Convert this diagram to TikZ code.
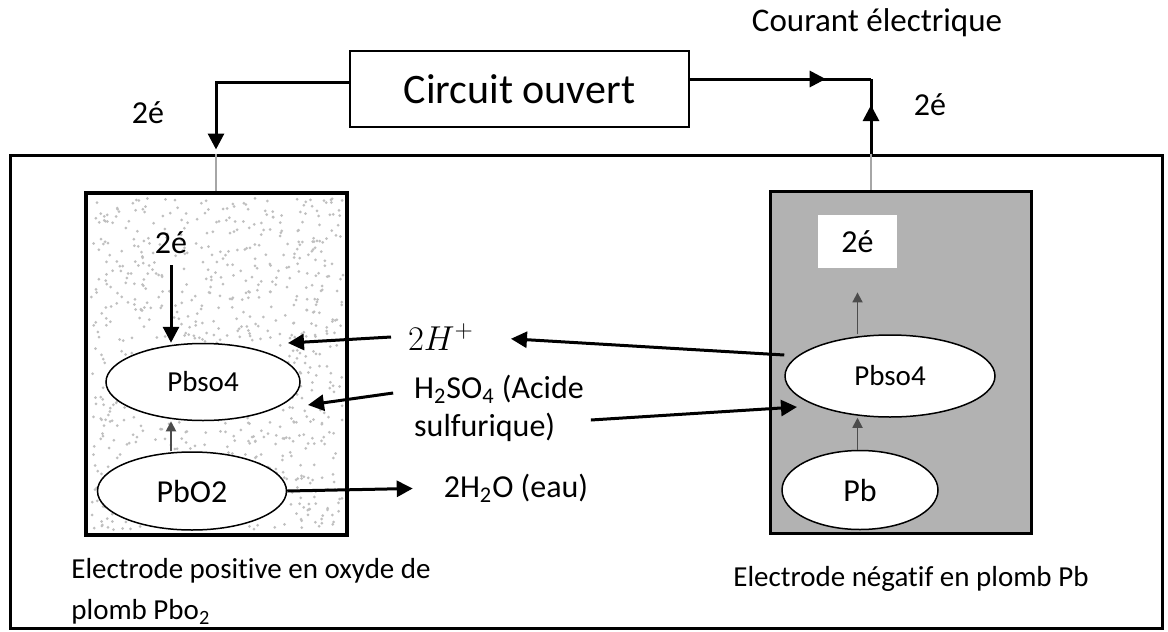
\documentclass[tikz,border=0pt]{standalone}
\usepackage{fontspec}
\setmainfont{Carlito}[Ligatures=NoCommon]
\usetikzlibrary{arrows.meta, shapes.geometric, decorations.markings}

\begin{document}
\begin{tikzpicture}[x=0.5pt, y=-0.5pt,
        every node/.style={font=\fontsize{16}{19}\selectfont},
        electrode/.style={draw, line width=1.9pt,
                minimum width=130.5pt, minimum height=171pt, inner sep=0pt},
        species/.style={ellipse, draw, fill=white, line width=0.75pt, inner sep=0pt},
        arr/.style={-{Triangle[length=8pt, width=8pt]}, line width=1.5pt},
        smallarr/.style={-{Triangle[length=5pt, width=5pt]}, line width=0.9pt,
                color=gray!60!black},
        wire/.style={line width=1.5pt},
        feed/.style={line width=0.9pt, color=gray!70},
        midarrow/.style={postaction={decorate}, decoration={markings,
                mark=at position #1 with {\arrow{Triangle[length=8pt, width=8pt]}}}},
        caption/.style={font=\fontsize{14.5}{20.5}\selectfont, align=left,
                anchor=west, inner sep=0pt}
    ]
    \useasboundingbox (0,0) rectangle (1168,632);

    % cell and external circuit
    \node[draw, line width=1.5pt, minimum width=576pt, minimum height=236.5pt] (cell) at (586,391.5) {};
    \node[draw, line width=0.8pt, minimum width=169.5pt, minimum height=38pt,
          font=\fontsize{21}{25}\selectfont] (circuit) at (519.5,89) {Circuit ouvert};

    % electrodes
    \node[electrode, fill=white] (posel) at (216.5,364) {};
    \node[electrode, fill=gray!60] (negel) at (901,362.5) {};

    % stippled oxide
    \pgfmathsetseed{12}
    \foreach \d in {1,...,900}
        \fill[gray!50] ({91+252*rnd},{198+332*rnd}) circle (0.75pt);

    % wires
    \coordinate (lc) at (216,82);
    \coordinate (rc) at (871,79);
    \draw[wire, -{Triangle[length=8pt, width=8pt]}, shorten >=2pt] (circuit.west |- lc) -| (lc |- cell.north);
    \draw[feed] (lc |- cell.north) -- (lc |- posel.north);
    \draw[wire, midarrow=0.75] (circuit.east |- rc) -- (rc);
    \draw[wire, midarrow=0.65] (rc |- cell.north) -- (rc);
    \draw[feed] (rc |- cell.north) -- (rc |- negel.north);

    \node (lwe) at (148,113) {2é};
    \node (rwe) at (930,105) {2é};
    \node[font=\fontsize{16.5}{20}\selectfont] (current) at (877,23) {Courant électrique};

    % species
    \node (le) at (171,243) {2é};
    \node[species, minimum width=97pt, minimum height=38.5pt,
          font=\fontsize{14.5}{17}\selectfont] (lso4) at (203,382) {Pbso4};
    \node[species, minimum width=94.5pt, minimum height=39pt] (lpbo2) at (192,491) {PbO2};
    \node[fill=white, minimum width=39.5pt, minimum height=26.5pt, inner sep=0pt] (re) at (857.5,241.5) {2é};
    \node[species, minimum width=105pt, minimum height=41pt,
          font=\fontsize{14.5}{17}\selectfont] (rso4) at (890,376) {Pbso4};
    \node[species, minimum width=78pt, minimum height=39.5pt] (rpb) at (860,490) {Pb};

    % electrolyte
    \node[font=\fontsize{17}{20}\selectfont] (hplus) at (441,337) {$2H^+$};
    \node[align=left] (acid) at (499,408) {H\textsubscript{2}SO\textsubscript{4} (Acide\\sulfurique)};
    \node (water) at (516,488) {2H\textsubscript{2}O (eau)};

    \node[caption] (poscap) at (71,591.5) {Electrode positive en oxyde de\\plomb Pbo\textsubscript{2}};
    \node[caption] (negcap) at (733,579) {Electrode négatif en plomb Pb};

    % reactions
    \coordinate (hin) at (288,343);
    \coordinate (ain) at (308,405);
    \coordinate (aout) at (797,407);
    \draw[arr, shorten <=2pt] (le.south) -- (le |- lso4.north);
    \draw[smallarr] (le |- lpbo2.north) -- (le |- lso4.south);
    \draw[smallarr] (re |- rpb.north) -- (re |- rso4.south);
    \draw[smallarr, shorten >=12pt] (re |- rso4.north) -- (re.south);
    \draw[arr] ([xshift=-5pt]hplus.west) -- (hin);
    \draw[arr, shorten >=15pt] ([yshift=10.5pt]rso4.west) -- (hplus.east);
    \draw[arr] ([xshift=-7pt, yshift=7.5pt]acid.west) -- (ain);
    \draw[arr] ([yshift=-6pt]acid.east) -- (aout);
    \draw[arr, shorten >=12pt] (lpbo2.east) -- (water.west);

\end{tikzpicture}
\end{document}
